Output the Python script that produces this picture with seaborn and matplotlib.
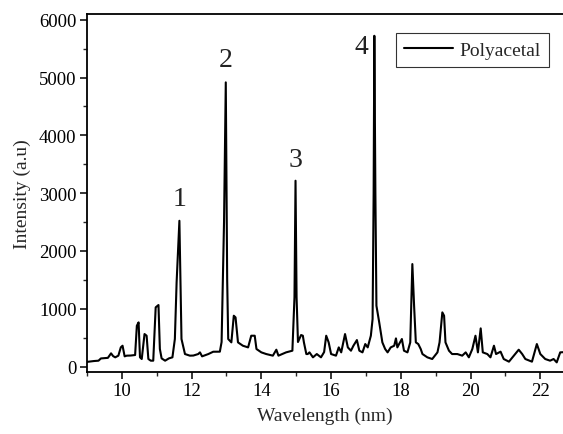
import numpy as np
import pandas as pd
import matplotlib
matplotlib.use("Agg")
import matplotlib.pyplot as plt
import seaborn as sns
from matplotlib.ticker import MultipleLocator

# spectrum, (wavelength nm, intensity a.u.)
wavelength = [
    9.00, 9.05, 9.20, 9.33, 9.40, 9.52, 9.60, 9.69, 9.75, 9.81, 9.90, 9.97,
    10.02, 10.08, 10.14, 10.25, 10.38, 10.43, 10.48, 10.52, 10.57, 10.65, 10.71,
    10.76, 10.83, 10.90, 10.97, 11.05, 11.09, 11.14, 11.24, 11.35, 11.45, 11.52,
    11.57, 11.65, 11.71, 11.81, 11.95, 12.05, 12.19, 12.24, 12.30, 12.48, 12.62,
    12.81, 12.86, 12.93, 12.98, 13.02, 13.05, 13.14, 13.21, 13.26, 13.33, 13.47,
    13.62, 13.71, 13.81, 13.86, 14.00, 14.14, 14.33, 14.43, 14.49, 14.71, 14.89,
    14.95, 14.98, 15.01, 15.05, 15.09, 15.14, 15.19, 15.22, 15.29, 15.33, 15.38,
    15.48, 15.59, 15.71, 15.80, 15.86, 15.93, 16.00, 16.14, 16.22, 16.29, 16.40,
    16.48, 16.57, 16.64, 16.74, 16.81, 16.90, 16.98, 17.05, 17.14, 17.19, 17.22,
    17.24, 17.27, 17.30, 17.38, 17.47, 17.55, 17.62, 17.71, 17.81, 17.86, 17.90,
    17.95, 18.03, 18.09, 18.19, 18.27, 18.33, 18.38, 18.43, 18.50, 18.57, 18.62,
    18.76, 18.90, 19.05, 19.11, 19.19, 19.24, 19.28, 19.38, 19.47, 19.62, 19.76,
    19.86, 19.95, 20.05, 20.14, 20.21, 20.29, 20.35, 20.48, 20.57, 20.67, 20.73,
    20.86, 20.95, 21.10, 21.24, 21.38, 21.48, 21.57, 21.76, 21.90, 22.00, 22.14,
    22.28, 22.38, 22.47, 22.57, 22.70,
]
intensity = [
    80, 84, 95, 101, 140, 147, 150, 228, 180, 159, 188, 332,
    360, 176, 188, 190, 199, 706, 764, 159, 130, 562, 533,
    130, 101, 101, 1024, 1064, 303, 141, 101, 141, 159, 476,
    1456, 2522, 476, 216, 188, 190, 216, 245, 176, 216, 256,
    257, 424, 2500, 4917, 1500, 476, 418, 879, 850, 418, 360,
    331, 533, 533, 303, 245, 216, 188, 291, 188, 245, 274,
    1200, 3215, 1200, 424, 476, 545, 533, 420, 216, 216, 245,
    159, 216, 159, 250, 533, 418, 216, 188, 331, 245, 562,
    331, 274, 360, 458, 274, 245, 389, 331, 533, 822, 3000,
    5723, 3000, 1052, 764, 418, 303, 245, 331, 360, 487, 331,
    389, 476, 274, 245, 418, 1773, 1052, 418, 389, 303, 216,
    159, 130, 245, 418, 937, 879, 418, 274, 216, 216, 188,
    245, 159, 303, 533, 245, 660, 245, 216, 159, 360, 216,
    257, 130, 84, 188, 291, 216, 130, 84, 389, 216, 130,
    101, 130, 72, 245, 250,
]

peak_labels = ["1", "2", "3", "4"]
peak_x = [11.65, 12.98, 14.98, 16.86]
peak_y = [2900, 5320, 3590, 5530]

df = pd.DataFrame({"Wavelength": wavelength, "Intensity": intensity})

sns.set_theme(style="ticks")
plt.rcParams["font.family"] = ["Liberation Serif", "DejaVu Serif"]

fig = plt.figure(figsize=(5.63, 4.35), dpi=100)
ax = fig.add_axes([0.1545, 0.1425, 0.8455, 0.823])

sns.lineplot(data=df, x="Wavelength", y="Intensity", estimator=None, sort=False,
             color="black", linewidth=1.5, label="Polyacetal", ax=ax)

for lab, px, py in zip(peak_labels, peak_x, peak_y):
    ax.text(px, py, lab, fontsize=20, ha="center", va="center", color="#222222")

ax.set_xlim(9, 22.65)
ax.set_ylim(-95, 6100)
ax.xaxis.set_major_locator(MultipleLocator(2))
ax.xaxis.set_minor_locator(MultipleLocator(1))
ax.yaxis.set_major_locator(MultipleLocator(1000))
ax.yaxis.set_minor_locator(MultipleLocator(500))
ax.tick_params(which="major", direction="out", length=5, width=1.1, labelsize=13.5,
               colors="black", pad=2.5)
ax.tick_params(which="minor", direction="out", length=3, width=1.0)
ax.set_xlabel("Wavelength (nm)", fontsize=14, labelpad=5)
ax.set_ylabel("Intensity (a.u)", fontsize=14, labelpad=6)

for side in ["left", "bottom", "top"]:
    ax.spines[side].set_visible(True)
    ax.spines[side].set_linewidth(1.3)
    ax.spines[side].set_color("black")
ax.spines["right"].set_visible(False)

leg = ax.legend(loc="upper right", bbox_to_anchor=(0.975, 0.922), bbox_transform=fig.transFigure,
                fontsize=14, frameon=True, fancybox=False, handlelength=2.5,
                borderpad=0.42, handletextpad=0.35, borderaxespad=0)
leg.get_frame().set_edgecolor("black")
leg.get_frame().set_linewidth(0.8)

fig.savefig("out.png", dpi=100)
